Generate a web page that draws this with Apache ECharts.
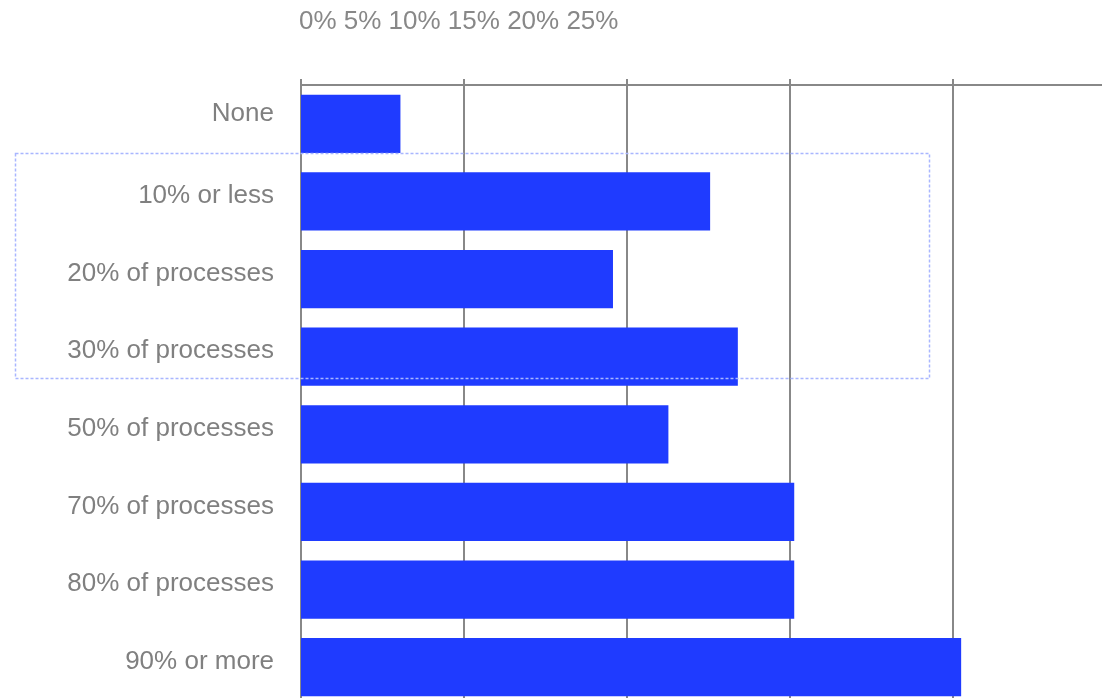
<!DOCTYPE html>
<html>
<head>
<meta charset="utf-8">
<script src="https://cdn.jsdelivr.net/npm/echarts@6/dist/echarts.min.js"></script>
<style>
html,body{margin:0;padding:0;background:#fff;overflow:hidden;}
/* 图表比窗口大, 右边和下边被裁掉 */
#echarts_main{width:1140px;height:720px;}
</style>
</head>
<body>
<div id="echarts_main"></div>
<script>
var _categories = ['None', '10% or less', '20% of processes', '30% of processes',
	'50% of processes', '70% of processes', '80% of processes', '90% or more'];
var _values = [3.05, 12.55, 9.57, 13.4, 11.27, 15.13, 15.13, 20.25];
var _ticks = ['0%', '5%', '10%', '15%', '20%', '25%'];

var myChart = echarts.init(document.getElementById('echarts_main'));

// 第一个标签位置偏上一点
var _catData = [];
for (var i in _categories) {
	var item = {value: _categories[i]};
	if (i == 0) {
		item.textStyle = {verticalAlign: 'bottom', lineHeight: 20};
	}
	_catData.push(item);
}

var option = {
	animation: false,
	// 刻度文字挤在一行
	title: {
		text: _ticks.join(' '),
		left: 294,
		top: 4,
		textStyle: {
			color: '#888',
			fontSize: 26,
			fontWeight: 'normal',
			fontFamily: 'Liberation Sans, Arial, sans-serif'
		}
	},
	grid: {
		left: 301,
		top: 85,
		width: 815,
		height: 621,
		containLabel: false
	},
	xAxis: {
		type: 'value',
		position: 'top',
		min: 0,
		max: 25,
		interval: 5,
		axisLine: {show: true, lineStyle: {color: '#888', width: 2}},
		axisTick: {show: true, length: 6, lineStyle: {color: '#888', width: 2}},
		axisLabel: {show: false},
		splitLine: {show: true, lineStyle: {color: '#888', width: 2}}
	},
	yAxis: {
		type: 'category',
		inverse: true,
		data: _catData,
		axisLine: {show: false},
		axisTick: {show: false},
		axisLabel: {
			margin: 27,
			color: '#808080',
			fontSize: 26,
			verticalAlign: 'bottom',
			lineHeight: 11,
			fontFamily: 'Liberation Sans, Arial, sans-serif'
		}
	},
	series: [{
		type: 'bar',
		data: _values,
		barWidth: '75%',
		itemStyle: {color: '#1f3bff'},
		z: 3
	}],
	graphic: [{
		type: 'rect',
		shape: {x: 15.5, y: 153.5, width: 914, height: 225},
		style: {fill: 'none', stroke: '#a9b6ff', lineWidth: 1.5, lineDash: [3, 2]},
		z: 10
	}]
};

myChart.setOption(option);
</script>
</body>
</html>
